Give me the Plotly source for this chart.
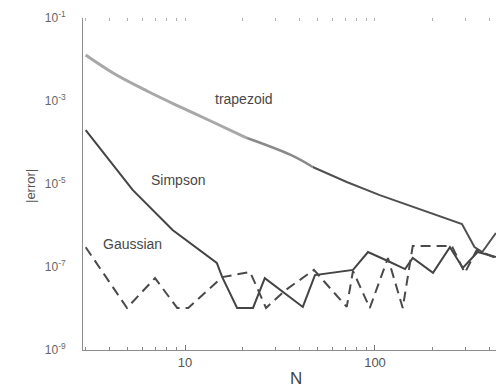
import math
import plotly.graph_objects as go

# --- data (N, |error|) ---
trap_N = [3, 4.18, 6.31, 9.42, 14, 21.2, 36, 47, 71, 106, 158, 212, 287, 334, 367, 433]
trap_E = [1.28e-2, 4.73e-3, 1.74e-3, 7.2e-4, 3.12e-4, 1.28e-4, 5.0e-5,
          2.57e-5, 1.12e-5, 5.4e-6, 2.8e-6, 1.79e-6, 1.09e-6, 3.03e-7, 2.3e-7, 6.6e-7]

simp_N = [3, 5.3, 8.6, 14.7, 15.7, 18.8, 22.8, 26.3, 41.7, 48.3, 76.6, 91.9,
          120, 144, 158, 202, 248, 290, 347, 433]
simp_E = [2.0e-4, 7.2e-6, 7.8e-7, 1.25e-7, 5.7e-8, 1.03e-8, 1.03e-8, 5.4e-8,
          1.09e-8, 6.4e-8, 8.5e-8, 2.3e-7, 1.32e-7, 8.9e-8, 1.65e-7, 7.2e-8,
          3.0e-7, 9.5e-8, 2.3e-7, 1.74e-7]

gaus_N = [3, 4.95, 6.95, 9.1, 10.4, 15.7, 22, 26.7, 33.9, 47.7, 71, 76.6,
          93.9, 117, 140, 158, 254, 297, 343, 433]
gaus_E = [3.0e-7, 1.03e-8, 5.4e-8, 1.03e-8, 1.03e-8, 5.7e-8, 7.6e-8, 1.03e-8,
          2.8e-8, 8.5e-8, 1.09e-8, 8.0e-8, 1.03e-8, 1.65e-7, 1.03e-8, 3.2e-7,
          3.2e-7, 7.2e-8, 2.57e-7, 1.65e-7]

x_tick_vals = [10, 100]
x_tick_text = ["10", "100"]
x_minor_vals = [3, 4, 5, 6, 7, 8, 9, 20, 30, 40, 50, 60, 70, 80, 90, 200, 300, 400]
y_tick_vals = [1e-1, 1e-3, 1e-5, 1e-7, 1e-9]
y_tick_text = ["10<sup>-1</sup>", "10<sup>-3</sup>", "10<sup>-5</sup>",
               "10<sup>-7</sup>", "10<sup>-9</sup>"]

labels = ["trapezoid", "Simpson", "Gaussian"]
label_N = [20.4, 9.2, 5.3]
label_E = [1.12e-3, 1.25e-5, 3.6e-7]

FONT = "Liberation Sans, Arial, sans-serif"

fig = go.Figure()

# trapezoid: light grey and thick at left, darkening toward the right
fig.add_trace(go.Scatter(x=trap_N[:6], y=trap_E[:6], mode="lines",
                         line=dict(color="#a8a8a8", width=3, shape="spline"),
                         hoverinfo="skip"))
fig.add_trace(go.Scatter(x=trap_N[5:8], y=trap_E[5:8], mode="lines",
                         line=dict(color="#8a8a8a", width=2.5, shape="spline"),
                         hoverinfo="skip"))
fig.add_trace(go.Scatter(x=trap_N[7:], y=trap_E[7:], mode="lines",
                         line=dict(color="#505050", width=2), hoverinfo="skip"))

fig.add_trace(go.Scatter(x=simp_N, y=simp_E, mode="lines",
                         line=dict(color="#444444", width=2), hoverinfo="skip"))
fig.add_trace(go.Scatter(x=gaus_N, y=gaus_E, mode="lines",
                         line=dict(color="#4a4a4a", width=2, dash="10px,6px"),
                         hoverinfo="skip"))

# invisible trace to activate top axis (mirror tick marks only)
fig.add_trace(go.Scatter(x=[10], y=[1e-5], xaxis="x2", mode="markers",
                         marker=dict(opacity=0), hoverinfo="skip"))

for t, xn, ye in zip(labels, label_N, label_E):
    fig.add_annotation(x=math.log10(xn), y=math.log10(ye), text=t, showarrow=False,
                       xref="x", yref="y",
                       font=dict(family=FONT, size=14, color="#484848"))

# axis titles as annotations (fixed pixel placement)
fig.add_annotation(x=(296 - 83) / 413, y=-(378 - 350) / 332, xref="paper", yref="paper",
                   text="N", showarrow=False, xanchor="center", yanchor="middle",
                   font=dict(family=FONT, size=17, color="#444444"))
fig.add_annotation(x=(30 - 83) / 413, y=(350 - 186) / 332, xref="paper", yref="paper",
                   text="|error|", showarrow=False, textangle=-90,
                   xanchor="center", yanchor="middle",
                   font=dict(family=FONT, size=13, color="#555555"))

xr = [0.463, 2.637]
fig.update_layout(
    width=496, height=391,
    margin=dict(l=83, r=0, t=18, b=41, autoexpand=False),
    paper_bgcolor="white", plot_bgcolor="white",
    showlegend=False,
    font=dict(family=FONT, color="#555555"),
    xaxis=dict(type="log", range=xr, showgrid=False, zeroline=False, automargin=False,
               showline=True, linecolor="#8c8c8c", linewidth=1,
               tickmode="array", tickvals=x_tick_vals, ticktext=x_tick_text,
               ticks="inside", ticklen=5, tickcolor="#777777",
               minor=dict(tickvals=x_minor_vals, ticks="inside", ticklen=3,
                          tickcolor="#888888"),
               tickfont=dict(size=13, color="#555555")),
    xaxis2=dict(type="log", range=xr, overlaying="x", side="top", automargin=False,
                showgrid=False, zeroline=False, showline=False,
                tickmode="array", tickvals=x_tick_vals + x_minor_vals,
                showticklabels=False, ticks="inside", ticklen=3,
                tickcolor="#b0b0b0"),
    yaxis=dict(type="log", range=[-9, -1], showgrid=False, zeroline=False,
               automargin=False,
               showline=True, linecolor="#8c8c8c", linewidth=1,
               tickmode="array", tickvals=y_tick_vals, ticktext=y_tick_text,
               ticks="", ticklabelstandoff=14,
               tickfont=dict(size=12, color="#666666")),
)

fig.write_html(
    "out.html",
    config={"displayModeBar": False},
    post_script="document.body.style.margin='0';document.body.style.padding='0';"
                "document.body.style.overflow='hidden';",
)
